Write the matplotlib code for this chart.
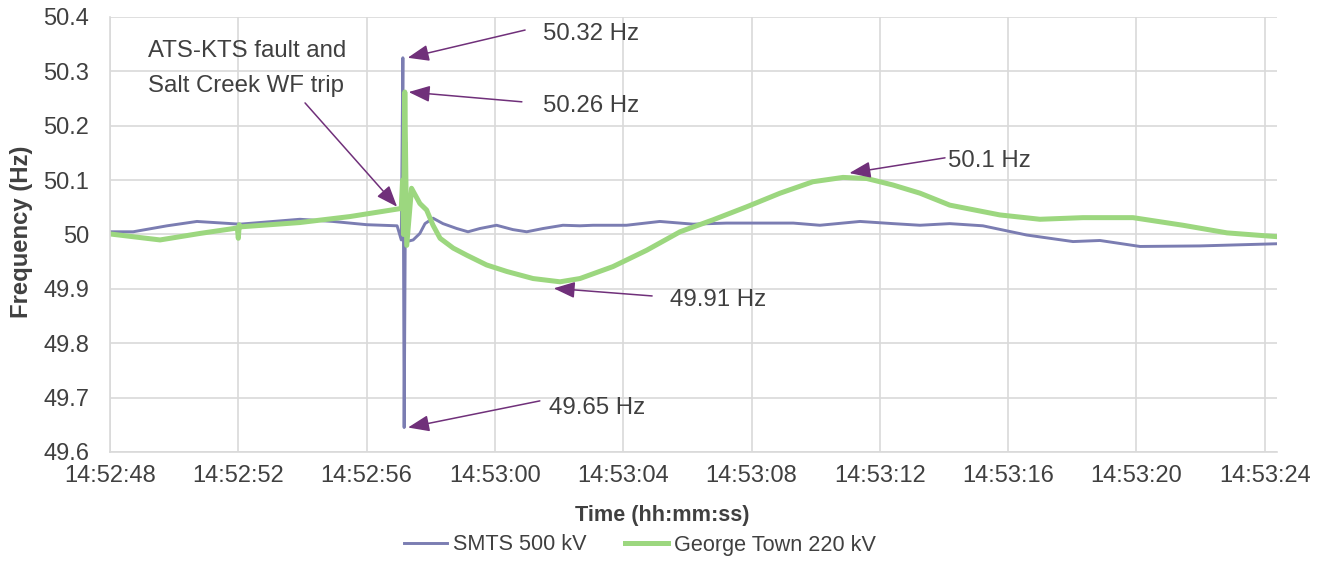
import matplotlib
matplotlib.use('Agg')
import matplotlib.pyplot as plt
from matplotlib.ticker import FuncFormatter, MultipleLocator
import numpy as np

plt.rcParams['font.family'] = ['Liberation Sans', 'DejaVu Sans']

# seconds after 14:52:48
smts_t = [0.0, 0.72, 1.78, 2.71, 4.05, 5.92, 6.95, 8.01, 8.95, 9.08, 9.13, 9.17, 9.22,
          9.25, 9.45, 9.66, 9.82, 10.07, 10.38, 10.81, 11.16, 11.53, 12.05, 12.56, 12.99,
          13.5, 14.12, 14.65, 15.06, 16.1, 17.14, 18.18, 19.22, 20.26, 21.3, 22.13, 23.38,
          24.41, 25.25, 26.18, 27.21, 28.58, 30.02, 30.86, 32.11, 33.98, 36.38]
smts_f = [50.005, 50.005, 50.016, 50.024, 50.019, 50.028, 50.024, 50.018, 50.016, 49.99,
          50.325, 49.645, 50.17, 49.987, 49.99, 50.002, 50.02, 50.03, 50.02, 50.011, 50.005,
          50.011, 50.017, 50.009, 50.005, 50.011, 50.017, 50.016, 50.017, 50.017, 50.024,
          50.019, 50.021, 50.021, 50.021, 50.017, 50.024, 50.02, 50.017, 50.02, 50.016,
          49.999, 49.987, 49.989, 49.978, 49.979, 49.983]

gt_t = [0.0, 1.56, 2.81, 3.97, 4.0, 4.03, 4.05, 5.92, 7.48, 8.98, 9.08, 9.12, 9.15, 9.19,
        9.25, 9.40, 9.66, 9.87, 10.07, 10.29, 10.7, 11.12, 11.74, 12.37, 13.19, 14.03,
        14.65, 15.68, 16.73, 17.77, 18.8, 19.85, 20.89, 21.91, 22.85, 23.59, 24.41, 25.25,
        26.18, 27.74, 28.99, 30.33, 31.89, 33.45, 34.82, 36.38]
gt_f = [50.001, 49.99, 50.002, 50.012, 49.993, 50.018, 50.014, 50.022, 50.033, 50.047,
        50.048, 50.1, 50.0, 50.262, 49.98, 50.085, 50.057, 50.045, 50.017, 49.993, 49.975,
        49.962, 49.944, 49.932, 49.919, 49.913, 49.919, 49.941, 49.971, 50.005, 50.027,
        50.051, 50.076, 50.097, 50.105, 50.103, 50.091, 50.076, 50.054, 50.036, 50.028,
        50.031, 50.031, 50.017, 50.003, 49.996]

TEXT = '#404040'
GRID = '#D9D9D9'
ARROW = '#70307A'
FS_TICK = 17
FS_NOTE = 17.3
FS_SMALL = 15.6

fig = plt.figure(figsize=(13.24, 5.61), dpi=100)
ax = fig.add_axes([110/1324, 1 - 452/561, (1277 - 110)/1324, (452 - 17)/561])

ax.plot(smts_t, smts_f, color='#7B7DB2', lw=2.1, label='SMTS 500 kV')
ax.plot(gt_t, gt_f, color='#9CD77F', lw=3.6, label='George Town 220 kV')

ax.set_xlim(0, 36.38)
ax.set_ylim(49.6, 50.4)
ax.xaxis.set_major_locator(MultipleLocator(4))
ax.yaxis.set_major_locator(MultipleLocator(0.1))


def fmt_time(s, pos):
    total = int(round(s)) + 14*3600 + 52*60 + 48
    return '%02d:%02d:%02d' % (total // 3600, (total % 3600) // 60, total % 60)


ax.xaxis.set_major_formatter(FuncFormatter(fmt_time))
ax.yaxis.set_major_formatter(FuncFormatter(lambda v, p: ('%.1f' % v).rstrip('0').rstrip('.')))
ax.tick_params(axis='both', length=0, labelsize=FS_TICK, labelcolor=TEXT)
ax.tick_params(axis='y', pad=15)
ax.tick_params(axis='x', pad=9)
ax.grid(True, color=GRID, lw=1.2)
ax.set_axisbelow(True)
for side in ['top', 'right']:
    ax.spines[side].set_visible(False)
for side in ['left', 'bottom']:
    ax.spines[side].set_color(GRID)
    ax.spines[side].set_linewidth(1.2)

fig.text(662/1324, 1 - 515/561, 'Time (hh:mm:ss)', ha='center', va='center',
         fontsize=FS_SMALL, fontweight='bold', color=TEXT)
fig.text(22/1324, 1 - 232/561, 'Frequency (Hz)', ha='center', va='center',
         rotation=90, fontsize=17.2, fontweight='bold', color=TEXT)

# annotations: arrow tips placed at the extremes of the data
arrow = dict(arrowstyle='-|>,head_length=0.65,head_width=0.25', color=ARROW,
             lw=1.1, shrinkA=0, shrinkB=0, mutation_scale=20)
i_max = int(np.argmax(smts_f))
i_min = int(np.argmin(smts_f))
g_max = int(np.argmax(gt_f))
late = [i for i in range(len(gt_t)) if gt_t[i] > 12]
g_min = min(late, key=lambda i: gt_f[i])
g_peak = max(late, key=lambda i: gt_f[i])

ax.annotate('', xy=(smts_t[i_max] + 0.15, smts_f[i_max]), xytext=(12.94, 50.376), arrowprops=arrow)
ax.text(13.5, 50.369, '50.32 Hz', fontsize=FS_NOTE, color=TEXT, va='center')
ax.annotate('', xy=(gt_t[g_max] + 0.12, gt_f[g_max]), xytext=(12.84, 50.244), arrowprops=arrow)
ax.text(13.5, 50.236, '50.26 Hz', fontsize=FS_NOTE, color=TEXT, va='center')
ax.annotate('', xy=(smts_t[i_min] + 0.12, smts_f[i_min]), xytext=(13.4, 49.694), arrowprops=arrow)
ax.text(13.68, 49.681, '49.65 Hz', fontsize=FS_NOTE, color=TEXT, va='center')
ax.annotate('', xy=(gt_t[g_min] - 0.2, gt_f[g_min] - 0.012), xytext=(16.9, 49.887), arrowprops=arrow)
ax.text(17.46, 49.88, '49.91 Hz', fontsize=FS_NOTE, color=TEXT, va='center')
ax.annotate('', xy=(gt_t[g_peak] + 0.2, gt_f[g_peak] + 0.008), xytext=(26.03, 50.141), arrowprops=arrow)
ax.text(26.12, 50.135, '50.1 Hz', fontsize=FS_NOTE, color=TEXT, va='center')
ax.annotate('', xy=(8.95, 50.051), xytext=(6.08, 50.242), arrowprops=arrow)
ax.text(1.19, 50.305, 'ATS-KTS fault and\nSalt Creek WF trip', fontsize=FS_NOTE, color=TEXT,
        va='center', ha='left', linespacing=1.75)

fig.legend(loc='center', bbox_to_anchor=(640/1324, 1 - 545/561), ncol=2, frameon=False,
           fontsize=FS_SMALL, labelcolor=TEXT, handlelength=2.0, handletextpad=0.28,
           columnspacing=1.75, borderpad=0)

fig.savefig('out.png', dpi=100)
